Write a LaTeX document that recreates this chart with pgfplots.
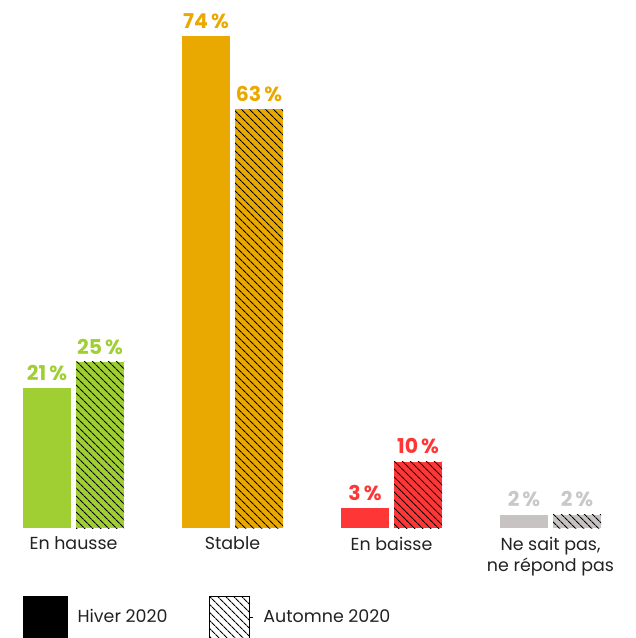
\documentclass[border=0pt]{standalone}
\usepackage{pgfplots}
\pgfplotsset{compat=1.18}
\usetikzlibrary{patterns.meta}
\usepackage{fontspec}
\setmainfont{Poppins}
\definecolor{cgreen}{HTML}{A0CF33}
\definecolor{corange}{HTML}{E9A900}
\definecolor{cred}{HTML}{FF3636}
\definecolor{cgrey}{HTML}{C8C3C3}
\definecolor{cgreylab}{HTML}{C8C8C8}
\definecolor{ctext}{HTML}{222222}
\tikzset{hatch/.style={postaction={pattern={Lines[angle=-45,distance=6bp,line width=1.1bp]},pattern color=black}}}
\begin{document}
\begin{tikzpicture}
\begin{axis}[
  at={(0,0)}, anchor=south west,
  width=636bp, height=528bp, scale only axis,
  xmin=-0.4623, xmax=3.5377, ymin=0, ymax=79.4,
  axis line style={draw=none}, tick style={draw=none},
  ytick=\empty, xtick={0,1,2,3},
  xticklabels={En hausse, Stable, En baisse, {Ne sait pas,\\ne répond pas}},
  xticklabel style={align=center, font=\fontsize{17.5}{22}\selectfont, text=ctext, yshift=-1bp},
  ybar, bar width=48bp,
  /pgf/number format/assume math mode=true,
  nodes near coords={\pgfmathprintnumber{\pgfplotspointmeta}\hspace{0.15em}\%},
  every node near coord/.append style={font=\bfseries\fontsize{20.5}{24}\selectfont, yshift=4bp},
  clip=false,
  legend columns=2,
  legend style={draw=none, fill=none, at={(0,0)}, anchor=west, xshift=23bp, yshift=-89bp,
    inner sep=0pt, font=\fontsize{17.5}{20}\selectfont, text=ctext,
    /tikz/every odd column/.append style={column sep=8bp},
    /tikz/every even column/.append style={column sep=39bp}},
  legend cell align=left,
]
\addlegendimage{legend image code/.code={\fill[black] (0bp,-21bp) rectangle (44bp,21bp);}}
\addlegendentry{Hiver 2020}
\addlegendimage{legend image code/.code={\path[pattern={Lines[angle=-45,distance=6bp,line width=1.3bp]},pattern color=black] (0bp,-21bp) rectangle (40bp,21bp); \path (40bp,0) -- (44bp,0);}}
\addlegendentry{Automne 2020}

\addplot[forget plot, fill=cgreen, draw=none, bar shift=-26.5bp, every node near coord/.append style={text=cgreen}] coordinates {(0,21)};
\addplot[forget plot, fill=cgreen, draw=none, hatch, bar shift=26.5bp, every node near coord/.append style={text=cgreen}] coordinates {(0,25)};
\addplot[forget plot, fill=corange, draw=none, bar shift=-26.5bp, every node near coord/.append style={text=corange}] coordinates {(1,74)};
\addplot[forget plot, fill=corange, draw=none, hatch, bar shift=26.5bp, every node near coord/.append style={text=corange}] coordinates {(1,63)};
\addplot[forget plot, fill=cred, draw=none, bar shift=-26.5bp, every node near coord/.append style={text=cred}] coordinates {(2,3)};
\addplot[forget plot, fill=cred, draw=none, hatch, bar shift=26.5bp, every node near coord/.append style={text=cred}] coordinates {(2,10)};
\addplot[forget plot, fill=cgrey, draw=none, bar shift=-26.5bp, every node near coord/.append style={text=cgreylab}] coordinates {(3,2)};
\addplot[forget plot, fill=cgrey, draw=none, hatch, bar shift=26.5bp, every node near coord/.append style={text=cgreylab}] coordinates {(3,2)};
\end{axis}
\pgfresetboundingbox
\path[use as bounding box] (0,-110bp) rectangle (636bp,528bp);
\end{tikzpicture}
\end{document}
